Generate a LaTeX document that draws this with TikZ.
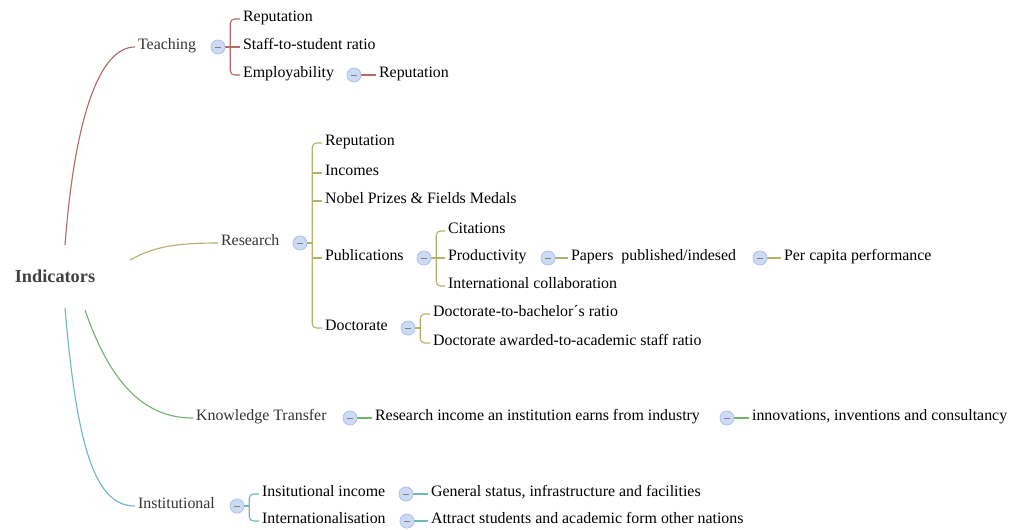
\documentclass[tikz,border=0pt]{standalone}
\usepackage{fontspec}
\setmainfont{Liberation Serif}
\usetikzlibrary{positioning,calc}
\definecolor{teachc}{RGB}{180,104,104}
\definecolor{resc}{RGB}{178,178,108}
\definecolor{knowc}{RGB}{112,180,112}
\definecolor{instc}{RGB}{112,184,192}
\definecolor{foldfill}{RGB}{204,218,244}
\definecolor{folddraw}{RGB}{170,192,232}
\tikzset{
  root/.style={font=\fontsize{13}{15}\selectfont\rmfamily\bfseries, text=black!75},
  topic/.style={anchor=west, inner sep=2pt, text height=7pt, text depth=3pt,
    font=\fontsize{11.3}{13}\selectfont\rmfamily, text=black!80},
  subtopic/.style={topic, text=black},
  fold/.style={circle, draw=folddraw, fill=foldfill, minimum size=0.35cm, inner sep=0pt,
    path picture={\draw[gray, line width=0.5pt] (-2pt,0) -- (2pt,0);}}
}

\begin{document}
\begin{tikzpicture}[x=0.025cm, y=-0.025cm,
    branch/.style={line width=0.8pt, rounded corners=3pt},
    tline/.style={branch, draw=teachc},
    rline/.style={branch, draw=resc},
    kline/.style={branch, draw=knowc},
    iline/.style={branch, draw=instc}
  ]
  \useasboundingbox (0,0) rectangle (1010,529);

  \node[root] (ind) at (55,276) {Indicators};

  % Teaching
  \node[topic] (teach) at (135,47) {Teaching};
  \node[fold] (tf) at (218,47) {};
  \node[subtopic] (t1) at (240,19) {Reputation};
  \node[subtopic] (t2) at (240,47) {Staff-to-student ratio};
  \node[subtopic] (t3) at (240,75) {Employability};
  \node[fold] (t3f) at (354,75) {};
  \node[subtopic] (t31) at (376,75) {Reputation};

  % Research
  \node[topic] (res) at (218,243) {Research};
  \node[fold] (rf) at (300,243) {};
  \node[subtopic] (r1) at (322,143) {Reputation};
  \node[subtopic] (r2) at (322,173) {Incomes};
  \node[subtopic] (r3) at (322,201) {Nobel Prizes \& Fields Medals};
  \node[subtopic] (r4) at (322,258) {Publications};
  \node[fold] (r4f) at (424,258) {};
  \node[subtopic] (r41) at (445,231) {Citations};
  \node[subtopic] (r42) at (445,258) {Productivity};
  \node[fold] (r42f) at (548,258) {};
  \node[subtopic] (r421) at (568,258) {Papers\ \ published/indesed};
  \node[fold] (r421f) at (760,258) {};
  \node[subtopic] (r4211) at (781,258) {Per capita performance};
  \node[subtopic] (r43) at (445,286) {International collaboration};
  \node[subtopic] (r5) at (322,328) {Doctorate};
  \node[fold] (r5f) at (408,328) {};
  \node[subtopic] (r51) at (430,314) {Doctorate-to-bachelor´s ratio};
  \node[subtopic] (r52) at (430,343) {Doctorate awarded-to-academic staff ratio};

  % Knowledge Transfer
  \node[topic] (know) at (193,418) {Knowledge Transfer};
  \node[fold] (kf) at (350,418) {};
  \node[subtopic] (k1) at (372,418) {Research income an institution earns from industry};
  \node[fold] (k1f) at (727,418) {};
  \node[subtopic] (k11) at (749,418) {innovations, inventions and consultancy};

  % Institutional
  \node[topic] (inst) at (135,506) {Institutional};
  \node[fold] (if) at (237,506) {};
  \node[subtopic] (i1) at (259,494) {Insitutional income};
  \node[fold] (i1f) at (406,494) {};
  \node[subtopic] (i11) at (428,494) {General status, infrastructure and facilities};
  \node[subtopic] (i2) at (259,521) {Internationalisation};
  \node[fold] (i2f) at (407,521) {};
  \node[subtopic] (i21) at (428,521) {Attract students and academic form other nations};

  % main branches
  \draw[tline] ($(ind)+(10,-31)$) .. controls +(10,-130) and +(-35,0) .. (teach.west);
  \draw[rline] ($(ind)+(75,-16)$) .. controls +(25,-14) and +(-40,0) .. (res.west);
  \draw[kline] ($(ind)+(30,34)$) .. controls +(25,72) and +(-50,0) .. (know.west);
  \draw[iline] ($(ind)+(10,32)$) .. controls +(12,140) and +(-40,0) .. (inst.west);

  % teaching brackets
  \draw[tline] (tf.east) -- ++(5,0) coordinate (tb);
  \draw[tline] (t1.west) -| (tb) |- (t3.west);
  \draw[tline] (tb |- t2.west) -- (t2.west);
  \draw[tline] (t3f.east) -- (t31.west);

  % research brackets
  \draw[rline] (rf.east) -- ++(5,0) coordinate (rb);
  \draw[rline] (r1.west) -| (rb) |- (r5.west);
  \foreach \c in {r2,r3,r4}
    \draw[rline] (rb |- \c.west) -- (\c.west);
  \draw[rline] (r4f.east) -- ++(5,0) coordinate (r4b);
  \draw[rline] (r41.west) -| (r4b) |- (r43.west);
  \draw[rline] (r4b |- r42.west) -- (r42.west);
  \draw[rline] (r42f.east) -- (r421.west);
  \draw[rline] (r421f.east) -- (r4211.west);
  \draw[rline] (r5f.east) -- ++(5,0) coordinate (r5b);
  \draw[rline] (r51.west) -| (r5b) |- (r52.west);

  % knowledge transfer
  \draw[kline] (kf.east) -- (k1.west);
  \draw[kline] (k1f.east) -- (k11.west);

  % institutional brackets
  \draw[iline] (if.east) -- ++(5,0) coordinate (ib);
  \draw[iline] (i1.west) -| (ib) |- (i2.west);
  \draw[iline] (i1f.east) -- (i11.west);
  \draw[iline] (i2f.east) -- (i21.west);

  % fold buttons on top of the lines
  \foreach \f in {tf,t3f,rf,r4f,r42f,r421f,r5f,kf,k1f,if,i1f,i2f}
    \node[fold] at (\f) {};
\end{tikzpicture}
\end{document}
